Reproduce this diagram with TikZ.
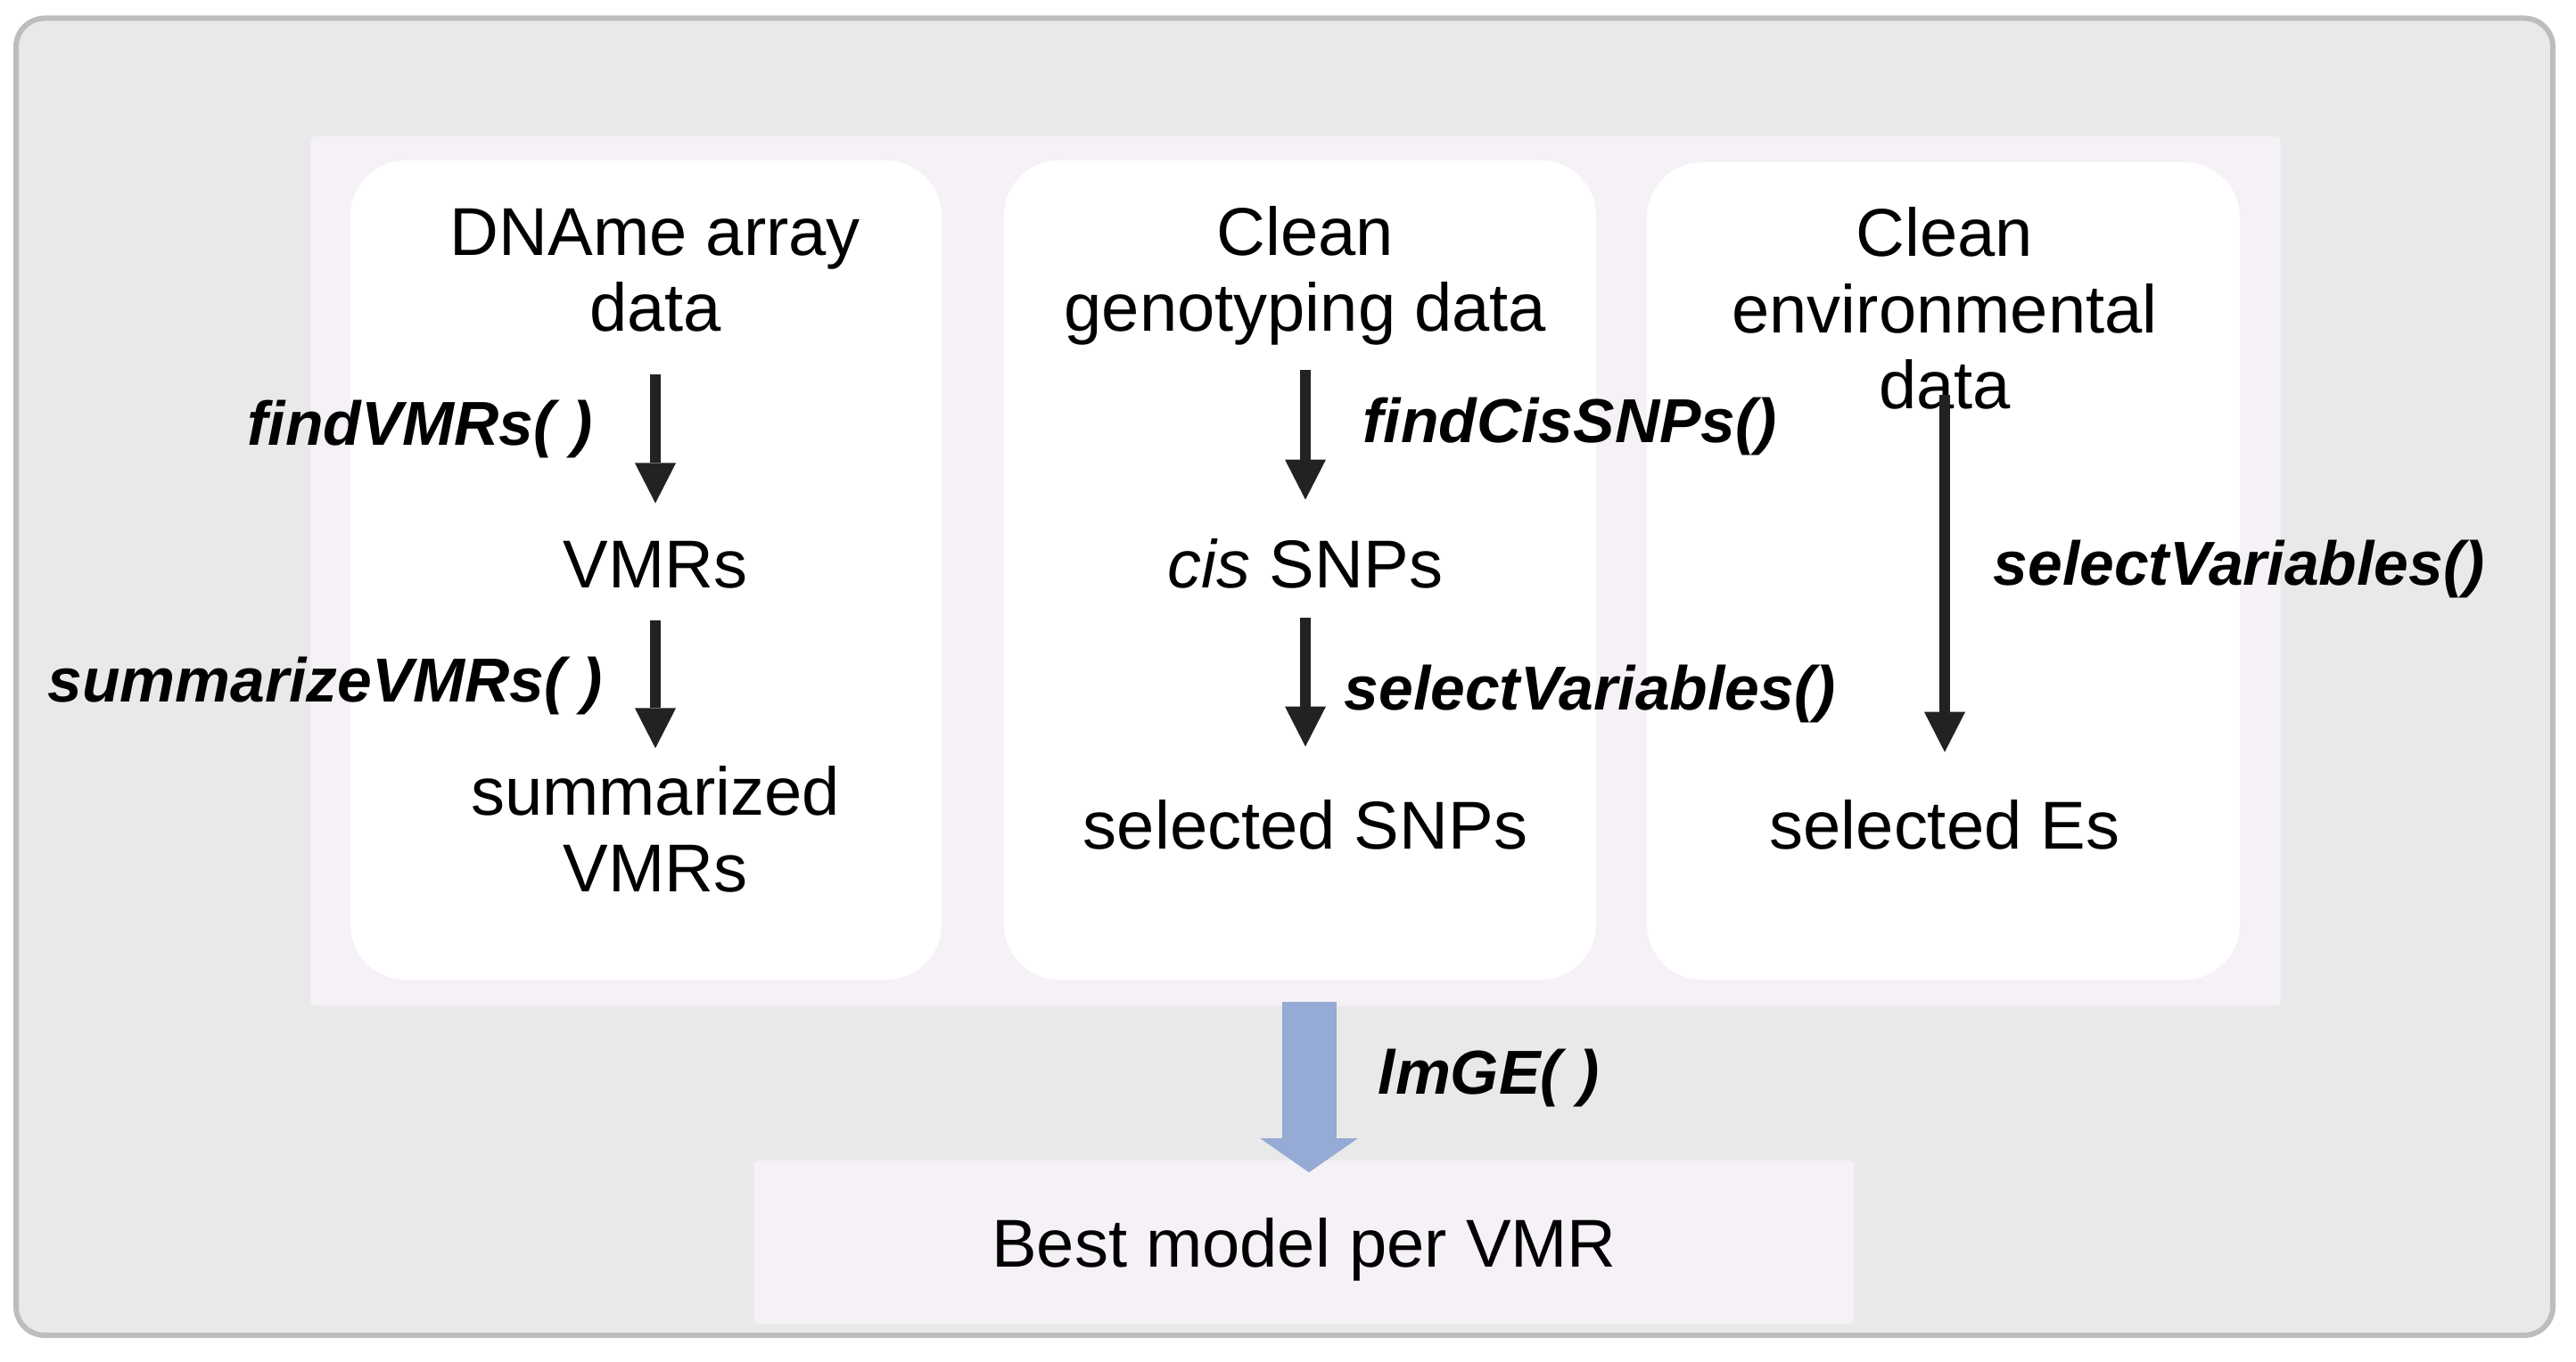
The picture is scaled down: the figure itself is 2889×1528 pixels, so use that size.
\documentclass[tikz,border=0pt]{standalone}
\usepackage{fontspec}
\setmainfont{Liberation Sans}
\usetikzlibrary{arrows.meta}
\definecolor{bggray}{HTML}{E9E9E9}
\definecolor{bordergray}{HTML}{BDBDBD}
\definecolor{lav}{HTML}{F5F1F7}
\definecolor{arrowdark}{HTML}{222222}
\definecolor{bluearrow}{HTML}{95AAD4}
\begin{document}
\begin{tikzpicture}[x=0.01cm,y=-0.01cm,
  maintext/.style={inner sep=0pt, anchor=base, align=center,
    font=\fontsize{21.6pt}{24.4pt}\selectfont},
  fnlabel/.style={inner sep=0pt,
    font=\fontsize{19.8pt}{23pt}\selectfont\bfseries\itshape},
  stepbox/.style={fill=white, rounded corners=0.62cm},
  darrow/.style={draw=arrowdark, line width=0.12cm,
    -{Triangle[length=0.45cm,width=0.46cm,line width=0pt]}},
  bluearr/.style={draw=bluearrow, line width=0.61cm,
    -{Triangle[length=0.38cm,width=1.09cm,line width=0pt]}},
  lavbox/.style={fill=lav, draw=none, rounded corners=0.05cm, inner sep=0pt}
]
\useasboundingbox (0,0) rectangle (2889,1528);
% outer frame
\draw[draw=bordergray, line width=0.06cm, fill=bggray, rounded corners=0.32cm]
  (18,20.5) rectangle (2863,1498);
% panel
\node[lavbox, minimum width=22.08cm, minimum height=9.75cm] (panel) at (1453,640.5) {};
% column boxes
\fill[stepbox] (393,180) rectangle (1056,1099);
\fill[stepbox] (1126,180) rectangle (1790,1099);
\fill[stepbox] (1847,182) rectangle (2512,1099);

% column 1 (multi-line nodes are placed by their last baseline)
\node[maintext] (dna) at (735,372) {DNAme array\\data};
\node[maintext] (vmr) at (735,659) {VMRs};
\node[maintext] (sumv) at (735,1000) {summarized\\VMRs};
\node[fnlabel, anchor=base east] (lfind) at (665,499.5) {findVMRs( )};
\node[fnlabel, anchor=base east] (lsum) at (677,787) {summarizeVMRs( )};
\draw[darrow, shorten <=4.7mm, shorten >=4.15mm] (dna.south) -- (vmr.north);
\draw[darrow, shorten <=3.6mm, shorten >=1.9mm] (vmr.south) -- (sumv.north);

% column 2
\node[maintext] (geno) at (1464,372) {Clean\\genotyping data};
\node[maintext] (cis) at (1464,659) {\textit{cis} SNPs};
\node[maintext] (selsnp) at (1464,952) {selected SNPs};
\node[fnlabel, anchor=base west] (lcis) at (1528,497) {findCisSNPs()};
\node[fnlabel, anchor=base west] (lsel) at (1507,796) {selectVariables()};
\draw[darrow, shorten <=2.7mm, shorten >=4.27mm] (geno.south) -- (cis.north);
\draw[darrow, shorten <=3.3mm, shorten >=5.87mm] (cis.south) -- (selsnp.north);

% column 3
\node[maintext] (env) at (2181,459) {Clean\\environmental\\data};
\node[maintext] (seles) at (2181,952) {selected Es};
\node[fnlabel, anchor=base west] (lsele) at (2235,656) {selectVariables()};
\draw[darrow, shorten <=-1.7mm, shorten >=5.25mm] (env.south) -- (seles.north);

% result
\node[lavbox, minimum width=12.33cm, minimum height=1.83cm, text depth=0pt,
  font=\fontsize{21.6pt}{24.4pt}\selectfont] (best) at (1462.5,1393.5) {Best model per VMR};
\draw[bluearr, shorten <=-0.5mm, shorten >=-1.4mm]
  ([xshift=0.055cm]panel.south -| best.north) -- ([xshift=0.055cm]best.north);
\node[fnlabel, anchor=base west] (llm) at (1545,1227) {lmGE( )};
\end{tikzpicture}
\end{document}
